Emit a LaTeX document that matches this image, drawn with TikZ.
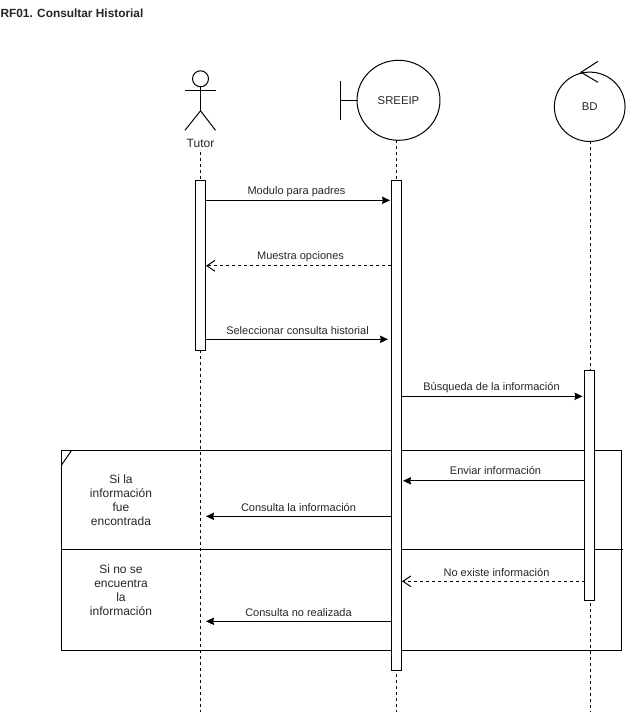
\documentclass[tikz,border=0pt]{standalone}
\usepackage{fontspec}
\setmainfont{Liberation Sans}
\usetikzlibrary{arrows.meta}
\usetikzlibrary{shapes.geometric}

\tikzset{
  lbl/.style={font=\fontsize{8.25pt}{10.5pt}\selectfont, inner sep=0pt, align=center, text=black!85},
  big/.style={lbl, font=\fontsize{9pt}{10.5pt}\selectfont},
  bar/.style={draw, fill=white, minimum width=7.5pt, inner sep=0pt, outer sep=0pt},
  lifeline/.style={dash pattern=on 2.25pt off 2.25pt},
  msg/.style={->, >={Stealth[length=6pt,width=5.5pt,inset=0.6pt]}},
  reply/.style={->, dash pattern=on 2.25pt off 2.25pt, >={Straight Barb[length=6pt,width=8pt]}},
  party/.style={draw, ellipse, inner sep=0pt, outer sep=0pt, font=\fontsize{8.5pt}{10.5pt}\selectfont, text=black!85}
}

\begin{document}
\begin{tikzpicture}[x=0.75pt, y=-0.75pt, line width=0.75pt]

        \useasboundingbox (0,-0.3) rectangle (626,711.7);

        % Title
        \node[lbl, font=\fontsize{8.9pt}{10.5pt}\bfseries, anchor=west] (title) at (0,13) {RF01. Consultar Historial};

        % Alternatives frame
        \node[draw, minimum width=420pt, minimum height=150.4pt, inner sep=0pt, outer sep=0pt] (frame) at (341.3,550.2) {};
        \coordinate (splitl) at (61.3,549);
        \coordinate (splitr) at (623,549);
        \draw (splitl) -- (splitr);
        \draw (61.3,465) -- (71.7,450);
        \node[big] (casea) at (121,500) {Si la\\información\\fue\\encontrada};
        \node[big] (caseb) at (121,589.5) {Si no se\\encuentra\\la\\información};

        % Tutor
        \node[draw, circle, minimum size=12pt, inner sep=0pt, outer sep=0pt] (head) at (200.5,78.5) {};
        \coordinate (hip) at (200.5,110.5);
        \draw (head) -- (hip);
        \draw (185,90.5) -- (215.5,90.5);
        \draw (185,130) -- (hip) -- (215.5,130);
        \node[big] (tutor) at (200.5,143) {Tutor};

        % SREEIP
        \node[party, minimum width=62.2pt, minimum height=60pt] (sreeip) at (398.5,100) {SREEIP};
        \coordinate (edge) at (340.3,100);
        \draw (sreeip.west) -- (edge);
        \draw (340.3,80.5) -- (340.3,120);

        % BD
        \node[party, minimum width=53pt, minimum height=52pt] (bd) at (589.7,106.5) {BD};
        \draw (598,61) -- (581,72) -- (598,82);

        % Lifelines
        \coordinate (tutorend) at (200.5,711.7);
        \coordinate (sreeipend) at (396,711.7);
        \coordinate (bdend) at (590,711.7);
        \coordinate (tutortop) at (200.5,152);
        \coordinate (sreeiptop) at (396,140);
        \coordinate (bdtop) at (590,141);
        \draw[lifeline] (tutortop) -- (tutorend);
        \draw[lifeline] (sreeiptop) -- (sreeipend);
        \draw[lifeline] (bdtop) -- (bdend);

        % Activation bars
        \node[bar, minimum height=127.5pt] (tutorbar) at (200,265) {};
        \node[bar, minimum height=367.5pt] (sreeipbar) at (396,425) {};
        \node[bar, minimum height=172.5pt] (bdbar) at (589.5,485.3) {};

        % Message heights
        \coordinate (m1) at (0,200);
        \coordinate (m2) at (0,265.5);
        \coordinate (m3) at (0,339);
        \coordinate (m4) at (0,396);
        \coordinate (m5) at (0,480.5);
        \coordinate (m6) at (0,516);
        \coordinate (m7) at (0,581);
        \coordinate (m8) at (0,621);

        % Messages
        \draw[msg, shorten >=0.75pt] (tutorbar.east |- m1) -- (sreeipbar.west |- m1);
        \node[lbl] (m1lbl) at (296.5,191.5) {Modulo para padres};
        \draw[reply, shorten >=0.75pt] (sreeipbar.west |- m2) -- (tutorbar.east |- m2);
        \node[lbl] (m2lbl) at (300.5,256.5) {Muestra opciones};
        \draw[msg, shorten >=2.25pt] (tutorbar.east |- m3) -- (sreeipbar.west |- m3);
        \node[lbl] (m3lbl) at (297.5,330) {Seleccionar consulta historial};
        \draw[msg, shorten >=1.5pt] (sreeipbar.east |- m4) -- (bdbar.west |- m4);
        \node[lbl] (m4lbl) at (491.5,387.5) {Búsqueda de la información};
        \draw[msg, shorten >=1.5pt] (bdbar.west |- m5) -- (sreeipbar.east |- m5);
        \node[lbl] (m5lbl) at (495.5,470.5) {Enviar información};
        \draw[msg, shorten >=0.75pt] (sreeipbar.west |- m6) -- (tutorbar.east |- m6);
        \node[lbl] (m6lbl) at (298.5,507) {Consulta la información};
        \draw[reply, shorten >=0.75pt] (bdbar.west |- m7) -- (sreeipbar.east |- m7);
        \node[lbl] (m7lbl) at (496.5,572) {No existe información};
        \draw[msg, shorten >=0.75pt] (sreeipbar.west |- m8) -- (tutorbar.east |- m8);
        \node[lbl] (m8lbl) at (298.5,612) {Consulta no realizada};

\end{tikzpicture}
\end{document}
